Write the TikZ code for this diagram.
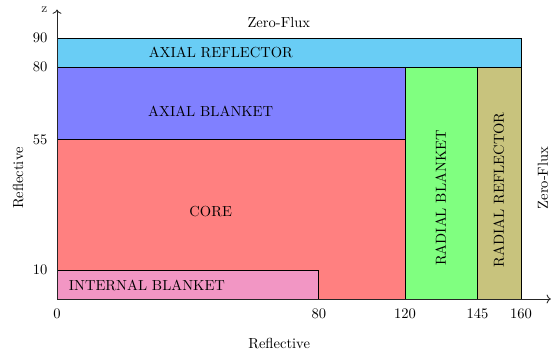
\documentclass[tikz,border=0pt]{standalone}
\usepackage{tikz}
\usetikzlibrary{arrows.meta}
\definecolor{reflcyan}{RGB}{105, 205, 245}
\definecolor{blanketblue}{RGB}{128, 128, 255}
\definecolor{corered}{RGB}{255, 128, 128}
\definecolor{innerpink}{RGB}{242, 150, 196}
\definecolor{radgreen}{RGB}{128, 255, 128}
\definecolor{radolive}{RGB}{200, 195, 125}

\begin{document}
\begin{tikzpicture}[
    x=0.07cm, y=0.07cm,
    region/.style={draw=black, line width=0.5pt},
    tag/.style={font=\normalsize},
    vtag/.style={font=\normalsize, rotate=90},
    tick/.style={font=\normalsize},
    bc/.style={font=\normalsize},
    axis/.style={->, semithick, color=black!85}
]
\useasboundingbox (-19.66, -20.3) rectangle (170.7, 103.1);

% Regions
\draw[region, fill=corered] (0, 0) rectangle (120, 55);
\draw[region, fill=innerpink] (0, 0) rectangle (90.3, 10);
\draw[region, fill=blanketblue] (0, 55) rectangle (120, 80);
\draw[region, fill=radgreen] (120, 0) rectangle (145, 80);
\draw[region, fill=radolive] (145, 0) rectangle (160, 80);
\draw[region, fill=reflcyan] (0, 80) rectangle (160, 90);

% Region labels
\node[tag] (axref) at (56.5, 85) {AXIAL REFLECTOR};
\node[tag] (axblk) at (53, 64.8) {AXIAL BLANKET};
\node[tag] (core) at (53, 30) {CORE};
\node[tag] (inblk) at (31, 4.8) {INTERNAL BLANKET};
\node[vtag] (radblk) at (132.4, 34.8) {RADIAL BLANKET};
\node[vtag] (radref) at (152.4, 37.6) {RADIAL REFLECTOR};

% Axes
\coordinate (origin) at (0, 0);
\coordinate (xend) at (170.3, 0);
\coordinate (zend) at (0, 99.8);
\draw[axis] (origin) -- (xend) node[below right=-1pt, font=\small] (xlab) {x};
\draw[axis] (origin) -- (zend) node[left=3pt, font=\small] (zlab) {z};

% Ticks
\foreach \xv/\xp in {0/0, 80/90.3, 120/120, 145/145, 160/160}
    \node[tick, below=3pt] (xt\xv) at (\xp, 0) {\xv};
\foreach \zv in {10, 55, 80, 90}
    \node[tick, left=3pt] (zt\zv) at (0, \zv) {\zv};

% Boundary conditions
\node[bc] (bctop) at (76.5, 95.2) {Zero-Flux};
\node[bc, rotate=90] (bcright) at (167.6, 41.7) {Zero-Flux};
\node[bc] (bcbottom) at (76.6, -15.2) {Reflective};
\node[bc, rotate=90] (bcleft) at (-13.4, 41.7) {Reflective};

\end{tikzpicture}
\end{document}
